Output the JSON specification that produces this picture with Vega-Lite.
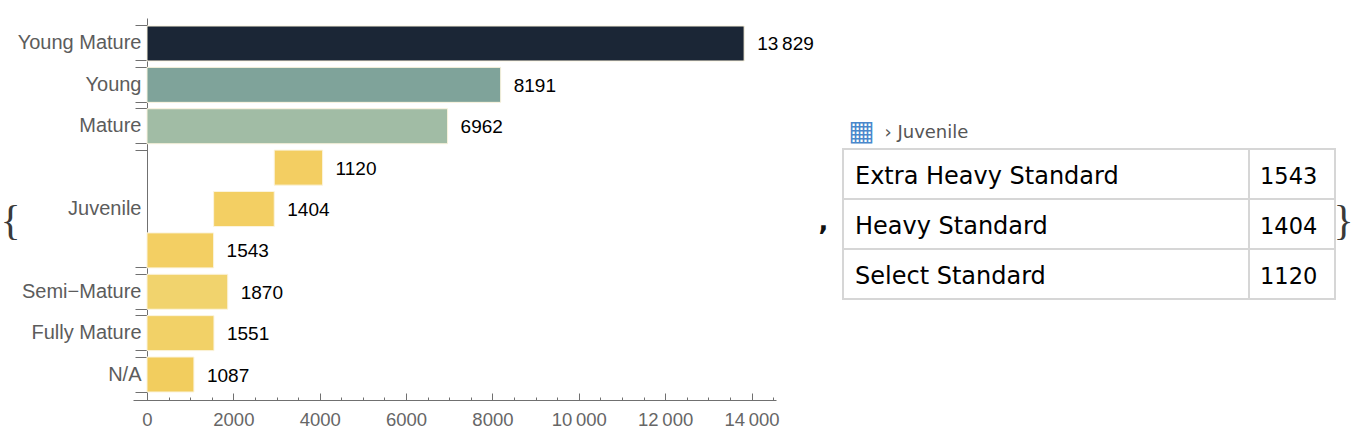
{
  "$schema": "https://vega.github.io/schema/vega-lite/v6.json",
  "autosize": {"type": "pad"},
  "padding": {"left": 0, "top": 18, "right": 0, "bottom": 0},
  "background": "white",
  "bounds": "flush",
  "spacing": 67,
  "config": {
    "view": {"stroke": null},
    "axis": {"grid": false, "labelFont": "Liberation Sans", "domainColor": "#707070", "tickColor": "#707070", "labelColor": "#606060"},
    "locale": {"number": {"decimal": ".", "thousands": "\u2009", "grouping": [3], "currency": ["", ""]}}
  },
  "datasets": {
    "counts": [
      {"row": "Young Mature", "start": 0, "end": 13829, "value": 13829},
      {"row": "Young", "start": 0, "end": 8191, "value": 8191},
      {"row": "Mature", "start": 0, "end": 6962, "value": 6962},
      {"row": "Juvenile / Select Standard", "start": 2947, "end": 4067, "value": 1120},
      {"row": "Juvenile", "start": 1543, "end": 2947, "value": 1404},
      {"row": "Juvenile / Extra Heavy Standard", "start": 0, "end": 1543, "value": 1543},
      {"row": "Semi−Mature", "start": 0, "end": 1870, "value": 1870},
      {"row": "Fully Mature", "start": 0, "end": 1551, "value": 1551},
      {"row": "N/A", "start": 0, "end": 1087, "value": 1087}
    ],
    "juvenile": [
      {"variety": "Extra Heavy Standard", "count": 1543},
      {"variety": "Heavy Standard", "count": 1404},
      {"variety": "Select Standard", "count": 1120}
    ]
  },
  "hconcat": [
    {
      "width": 643,
      "height": 382,
      "data": {"name": "counts"},
      "resolve": {"axis": {"x": "independent", "y": "independent"}},
      "layer": [
        {
          "mark": {"type": "bar", "stroke": "#fbf4de", "strokeWidth": 1},
          "encoding": {
            "y": {
              "field": "row", "type": "nominal", "sort": null,
              "scale": {
                "domain": ["Young Mature", "Young", "Mature", "Juvenile / Select Standard", "Juvenile", "Juvenile / Extra Heavy Standard", "Semi−Mature", "Fully Mature", "N/A"],
                "paddingInner": 0.154, "paddingOuter": 0.193
              },
              "axis": {
                "orient": "left", "offset": -14, "domain": true, "ticks": false,
                "labelPadding": 6, "labelFontSize": 20, "labelColor": "#5c5c5c",
                "labelExpr": "indexof(datum.label, ' / ') >= 0 ? '' : datum.label",
                "title": "{", "titleAngle": 0, "titleX": -136.9, "titleY": 202,
                "titleAlign": "center", "titleBaseline": "middle",
                "titleFont": "Liberation Serif", "titleFontSize": 42, "titleFontWeight": "normal", "titleColor": "#3a3a3a"
              }
            },
            "x": {
              "field": "start", "type": "quantitative",
              "scale": {"domain": [-324, 14567], "nice": false, "zero": false},
              "axis": {
                "orient": "bottom",
                "values": [0, 2000, 4000, 6000, 8000, 10000, 12000, 14000],
                "tickSize": -7, "labelPadding": 17, "labelFontSize": 18.5, "labelColor": "#666666",
                "labelExpr": "datum.value >= 10000 ? floor(datum.value / 1000) + '\u2009000' : format(datum.value, 'd')",
                "title": null
              }
            },
            "x2": {"field": "end"},
            "color": {
              "field": "row", "type": "nominal", "legend": null,
              "scale": {
                "domain": ["Young Mature", "Young", "Mature", "Juvenile / Select Standard", "Juvenile", "Juvenile / Extra Heavy Standard", "Semi−Mature", "Fully Mature", "N/A"],
                "range": ["#1b2636", "#7fa39a", "#a1bca5", "#f3ce62", "#f3cf63", "#f3cf63", "#f1d36d", "#f2d167", "#f2cd5e"]
              }
            }
          }
        },
        {
          "mark": {"type": "text", "align": "left", "baseline": "middle", "dx": 13, "dy": 1, "font": "Liberation Sans", "fontSize": 19, "color": "black"},
          "encoding": {
            "y": {
              "field": "row", "type": "nominal", "sort": null,
              "axis": {
                "orient": "left", "offset": -14, "domain": false, "labels": false, "ticks": true,
                "tickSize": 12, "bandPosition": 0, "title": null,
                "values": ["Young Mature", "Young", "Mature", "Juvenile / Select Standard", "Semi−Mature", "Fully Mature", "N/A"]
              }
            },
            "x": {
              "field": "end", "type": "quantitative",
              "axis": {
                "orient": "bottom",
                "values": [500, 1000, 1500, 2500, 3000, 3500, 4500, 5000, 5500, 6500, 7000, 7500, 8500, 9000, 9500, 10500, 11000, 11500, 12500, 13000, 13500, 14500],
                "tickSize": -3, "labels": false, "domain": false, "title": null
              }
            },
            "text": {
              "condition": {"test": "datum.value >= 10000", "field": "value", "type": "quantitative", "format": ","},
              "field": "value", "type": "quantitative", "format": "d"
            }
          }
        },
        {
          "mark": {"type": "bar", "opacity": 0},
          "encoding": {
            "y": {
              "field": "row", "type": "nominal", "sort": null,
              "axis": {
                "orient": "left", "offset": -14, "domain": false, "labels": false, "ticks": true,
                "tickSize": 12, "bandPosition": 1, "title": null,
                "values": ["Young Mature", "Young", "Mature", "Juvenile / Extra Heavy Standard", "Semi−Mature", "Fully Mature", "N/A"]
              }
            },
            "x": {"field": "start", "type": "quantitative", "axis": null},
            "x2": {"field": "end"}
          }
        }
      ]
    },
    {
      "hconcat": [
        {
          "width": 406,
          "height": 382,
          "data": {"name": "juvenile"},
          "encoding": {
            "y": {
              "field": "variety", "type": "nominal", "sort": null,
              "scale": {"domain": ["Extra Heavy Standard", "Heavy Standard", "Select Standard"], "range": [131, 281], "paddingInner": 0, "paddingOuter": 0},
              "axis": {
                "orient": "left", "domain": false, "labels": false, "ticks": false,
                "title": ",", "titleAngle": 0, "titleX": -20, "titleY": 211,
                "titleAlign": "center", "titleBaseline": "alphabetic",
                "titleFont": "DejaVu Sans", "titleFontSize": 26, "titleFontWeight": "bold", "titleColor": "#111111"
              }
            }
          },
          "layer": [
            {"mark": {"type": "rect", "fill": "white", "stroke": "#d6d6d6", "strokeWidth": 2}},
            {
              "mark": {"type": "text", "align": "left", "baseline": "middle", "dx": 12, "dy": 3, "font": "DejaVu Sans", "fontSize": 24, "color": "black"},
              "encoding": {
                "x": {
                  "datum": "Variety", "type": "nominal", "bandPosition": 0,
                  "scale": {"type": "band", "paddingInner": 0, "paddingOuter": 0},
                  "axis": {
                    "orient": "top", "domain": false, "labels": false, "ticks": false,
                    "title": "›  Juvenile", "titleX": 41, "titleY": 114,
                    "titleAlign": "left", "titleBaseline": "middle",
                    "titleFont": "DejaVu Sans", "titleFontSize": 18, "titleFontWeight": "normal", "titleColor": "#555555"
                  }
                },
                "text": {"field": "variety"}
              }
            }
          ]
        },
        {
          "width": 86,
          "height": 382,
          "data": {"name": "juvenile"},
          "encoding": {
            "y": {
              "field": "variety", "type": "nominal", "sort": null,
              "scale": {"domain": ["Extra Heavy Standard", "Heavy Standard", "Select Standard"], "range": [131, 281], "paddingInner": 0, "paddingOuter": 0},
              "axis": {
                "orient": "right", "domain": false, "labels": false, "ticks": false,
                "title": "}", "titleAngle": 0, "titleX": 8, "titleY": 202,
                "titleAlign": "center", "titleBaseline": "middle",
                "titleFont": "Liberation Serif", "titleFontSize": 42, "titleFontWeight": "normal", "titleColor": "#3a3a3a"
              }
            }
          },
          "layer": [
            {"mark": {"type": "rect", "fill": "white", "stroke": "#d6d6d6", "strokeWidth": 2}},
            {
              "mark": {"type": "text", "align": "left", "baseline": "middle", "dx": 11, "dy": 3, "font": "DejaVu Sans", "fontSize": 22.5, "color": "black"},
              "encoding": {
                "x": {
                  "datum": "Count", "type": "nominal", "bandPosition": 0,
                  "scale": {"type": "band", "paddingInner": 0, "paddingOuter": 0},
                  "axis": {
                    "orient": "top", "domain": false, "labels": false, "ticks": false,
                    "title": "▦", "titleX": -388, "titleY": 113,
                    "titleAlign": "center", "titleBaseline": "middle",
                    "titleFont": "DejaVu Sans", "titleFontSize": 28, "titleFontWeight": "normal", "titleColor": "#4a88cc"
                  }
                },
                "text": {"field": "count", "type": "quantitative", "format": "d"}
              }
            }
          ]
        }
      ],
      "spacing": 0,
      "bounds": "flush"
    }
  ]
}
